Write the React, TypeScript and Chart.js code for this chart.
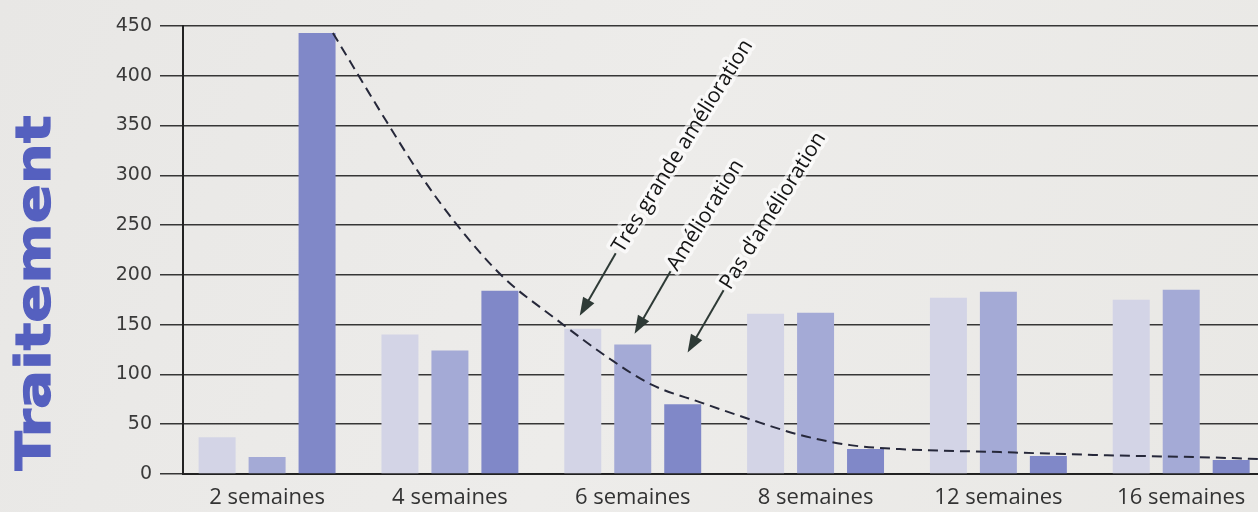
import React, { useEffect, useRef } from "react";
import { Chart, registerables } from "chart.js";

Chart.register(...registerables);

const categories = ["2 semaines", "4 semaines", "6 semaines", "8 semaines", "12 semaines", "16 semaines"];
const tresGrande = [37, 140, 146, 161, 177, 175];
const amelioration = [17, 124, 130, 162, 183, 185];
const pasAmelioration = [443, 184, 70, 25, 18, 14];
const yTicks = [0, 50, 100, 150, 200, 250, 300, 350, 400, 450];

// dashed trend curve (x in category units, y in values)
const trendX = [0.36, 0.65, 0.84, 1.04, 1.29, 1.57, 1.88, 2.1, 2.37, 2.64, 2.92, 3.19, 3.46, 4.01, 4.56, 5.28, 5.42];
const trendY = [443, 355, 300, 250, 198, 157, 115, 90, 72, 55, 39, 29, 25, 22, 19, 16, 15];

const annotationLabels = ["Très grande amélioration", "Amélioration", "Pas d’amélioration"];
const annotationTipX = [1.71, 2.01, 2.3];
const annotationTipY = [159, 141, 122];

const backgroundPlugin = {
  id: "bg",
  beforeDraw(chart: any) {
    const { ctx, width, height } = chart;
    ctx.save();
    const g = ctx.createLinearGradient(0, 0, width, height);
    g.addColorStop(0, "#e8e7e5");
    g.addColorStop(0.5, "#edecea");
    g.addColorStop(1, "#e9e8e5");
    ctx.fillStyle = g;
    ctx.fillRect(0, 0, width, height);
    ctx.restore();
  },
};

const titlePlugin = {
  id: "ytitle",
  afterDraw(chart: any) {
    const { ctx, chartArea } = chart;
    ctx.save();
    ctx.font = "bold 48px 'DejaVu Sans'";
    const text = "Traitement";
    const w = ctx.measureText(text).width;
    const target = 355;
    ctx.translate(50, chartArea.top + 267);
    ctx.rotate(-Math.PI / 2);
    ctx.scale(target / w, 1);
    ctx.fillStyle = "#5560bf";
    ctx.strokeStyle = "#5560bf";
    ctx.lineWidth = 1.2;
    ctx.textAlign = "center";
    ctx.textBaseline = "alphabetic";
    ctx.fillText(text, 0, 0);
    ctx.strokeText(text, 0, 0);
    ctx.restore();
  },
};

const annotationPlugin = {
  id: "arrows",
  afterDatasetsDraw(chart: any) {
    const { ctx, scales } = chart;
    const arrowAngle = (60 * Math.PI) / 180;
    const textAngle = (-58 * Math.PI) / 180;
    annotationLabels.forEach((label, i) => {
      const tx = scales.x.getPixelForValue(annotationTipX[i]);
      const ty = scales.y.getPixelForValue(annotationTipY[i]);
      const len = 72;
      const ex = tx + len * Math.cos(arrowAngle);
      const ey = ty - len * Math.sin(arrowAngle);
      ctx.save();
      ctx.strokeStyle = "#2e3a36";
      ctx.fillStyle = "#2e3a36";
      ctx.lineWidth = 2;
      const ux = Math.cos(arrowAngle);
      const uy = -Math.sin(arrowAngle);
      const headLen = 18;
      const headW = 6.5;
      ctx.beginPath();
      ctx.moveTo(ex, ey);
      ctx.lineTo(tx + ux * headLen * 0.8, ty + uy * headLen * 0.8);
      ctx.stroke();
      const bx = tx + ux * headLen;
      const by = ty + uy * headLen;
      ctx.beginPath();
      ctx.moveTo(tx, ty);
      ctx.lineTo(bx - uy * headW, by + ux * headW);
      ctx.lineTo(bx + uy * headW, by - ux * headW);
      ctx.closePath();
      ctx.fill();
      ctx.translate(ex, ey);
      ctx.rotate(textAngle);
      ctx.font = "500 21px 'Open Sans'";
      ctx.textAlign = "left";
      ctx.textBaseline = "middle";
      ctx.lineJoin = "round";
      ctx.strokeStyle = "rgba(255,255,255,0.65)";
      ctx.lineWidth = 7;
      ctx.strokeText(label, 3, 0);
      ctx.fillStyle = "#151515";
      ctx.fillText(label, 3, 0);
      ctx.restore();
    });
  },
};

export default function App() {
  const canvasRef = useRef<HTMLCanvasElement | null>(null);

  useEffect(() => {
    if (!canvasRef.current) return;
    const toXY = (arr: number[]) => arr.map((v, i) => ({ x: i, y: v }));
    const chart = new Chart(canvasRef.current, {
      type: "bar",
      data: {
        datasets: [
          {
            type: "line",
            label: "tendance",
            data: trendX.map((x, i) => ({ x, y: trendY[i] })),
            borderColor: "#26283a",
            borderWidth: 2,
            borderDash: [10, 6],
            pointRadius: 0,
            fill: false,
            cubicInterpolationMode: "monotone",
            order: 0,
          } as any,
          {
            label: "Très grande amélioration",
            data: toXY(tresGrande),
            backgroundColor: "#d3d4e6",
            order: 1,
            categoryPercentage: 0.82,
            barPercentage: 0.74,
          },
          {
            label: "Amélioration",
            data: toXY(amelioration),
            backgroundColor: "#a4aad6",
            order: 1,
            categoryPercentage: 0.82,
            barPercentage: 0.74,
          },
          {
            label: "Pas d’amélioration",
            data: toXY(pasAmelioration),
            backgroundColor: "#8088c8",
            order: 1,
            categoryPercentage: 0.82,
            barPercentage: 0.74,
          },
        ],
      },
      options: {
        animation: false,
        responsive: true,
        maintainAspectRatio: false,
        layout: { padding: { top: 26, right: 0, left: 0, bottom: 0 } },
        plugins: { legend: { display: false }, tooltip: { enabled: false } },
        scales: {
          x: {
            type: "linear",
            offset: false,
            min: -0.46,
            max: 5.42,
            grid: { display: true, offset: false, drawOnChartArea: false, drawTicks: false },
            border: { display: true, color: "#222", width: 2 },
            ticks: {
              stepSize: 1,
              includeBounds: false,
              autoSkip: false,
              maxRotation: 0,
              padding: 11,
              color: "#333",
              font: { family: "'Open Sans'", size: 22 },
              callback: (v: any) => (Number.isInteger(v) && categories[v] ? categories[v] : ""),
            },
            afterFit: (scale: any) => {
              scale.height = 38;
            },
          },
          y: {
            type: "linear",
            min: 0,
            max: 450,
            afterBuildTicks: (scale: any) => {
              scale.ticks = yTicks.map((v) => ({ value: v }));
            },
            grid: { color: "#363636", lineWidth: 1.5, tickLength: 23, drawTicks: true },
            border: { display: true, color: "#222", width: 2 },
            ticks: {
              padding: 8,
              color: "#3a3a3a",
              font: { family: "'DejaVu Sans'", size: 19 },
            },
            afterFit: (scale: any) => {
              scale.width = 183;
            },
          },
        },
      },
      plugins: [backgroundPlugin, annotationPlugin, titlePlugin],
    });
    return () => chart.destroy();
  }, []);

  return (
    <div style={{ position: "fixed", left: 0, top: 0, width: 1258, height: 512 }}>
      <canvas ref={canvasRef} />
    </div>
  );
}
